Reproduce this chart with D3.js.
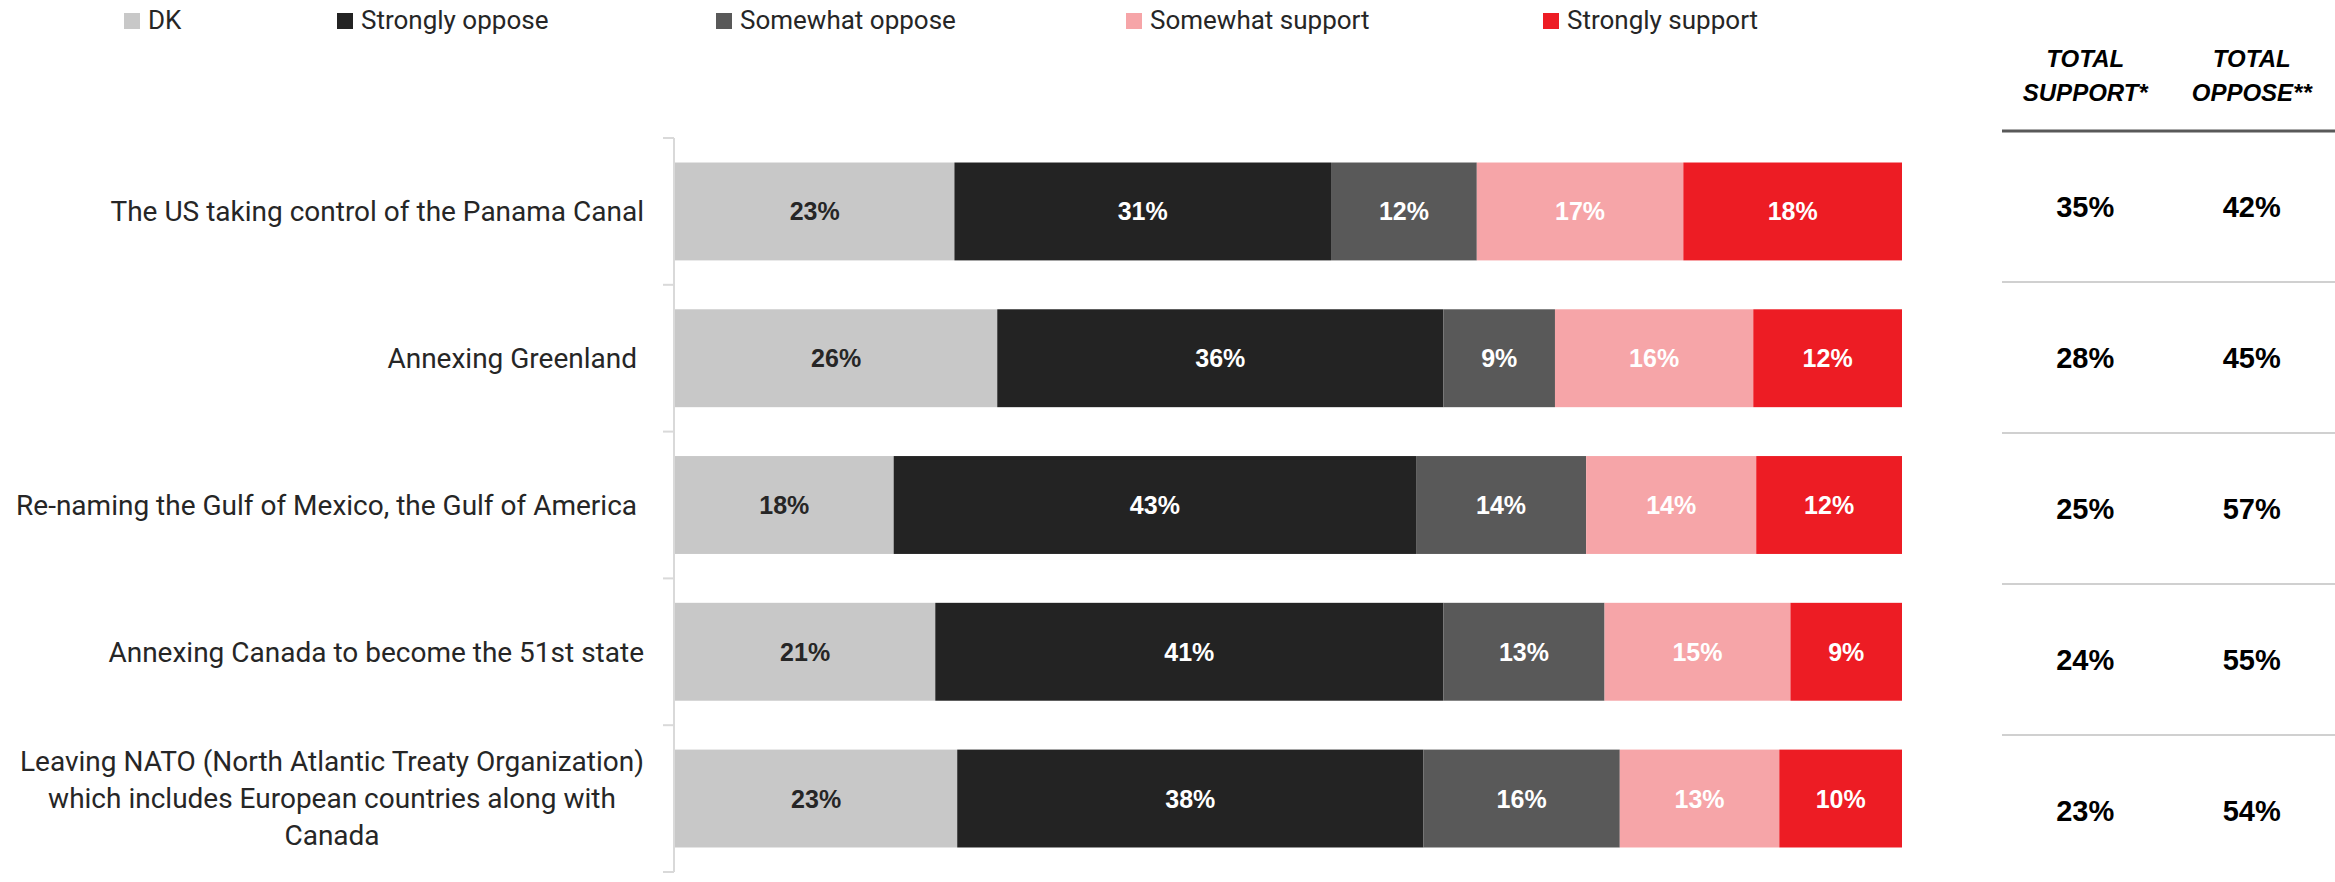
<!DOCTYPE html>
<html>
<head>
<meta charset="utf-8">
<script src="https://cdn.jsdelivr.net/npm/d3@7"></script>
<style>
  body { margin: 0; background: #fff; }
  svg { display: block; }
</style>
</head>
<body>
<div class="canvas"></div>
<script>
const w = 2335;
const h = 882;

// data
const categories = [
  "The US taking control of the Panama Canal",
  "Annexing Greenland ",
  "Re-naming the Gulf of Mexico, the Gulf of America ",
  "Annexing Canada to become the 51st state",
  "Leaving NATO (North Atlantic Treaty Organization) which includes European countries along with Canada"
];
const seriesNames = ["DK", "Strongly oppose", "Somewhat oppose", "Somewhat support", "Strongly support"];
const dk = [23, 26, 18, 21, 23];
const stronglyOppose = [31, 36, 43, 41, 38];
const somewhatOppose = [12, 9, 14, 13, 16];
const somewhatSupport = [17, 16, 14, 15, 13];
const stronglySupport = [18, 12, 12, 9, 10];
const totalSupport = [35, 28, 25, 24, 23];
const totalOppose = [42, 45, 57, 55, 54];
const tableHeaders = [["TOTAL", "SUPPORT*"], ["TOTAL", "OPPOSE**"]];
const labelLines = [
  ["The US taking control of the Panama Canal"],
  ["Annexing Greenland "],
  ["Re-naming the Gulf of Mexico, the Gulf of America "],
  ["Annexing Canada to become the 51st state"],
  ["Leaving NATO (North Atlantic Treaty Organization)", "which includes European countries along with", "Canada"]
];

const colors = d3.scaleOrdinal()
  .domain(seriesNames)
  .range(["#c8c8c8", "#232323", "#595959", "#f6a5a8", "#ed1c24"]);
const textColors = d3.scaleOrdinal()
  .domain(seriesNames)
  .range(["#262626", "#fff", "#fff", "#fff", "#fff"]);

const rows = categories.map((c, i) => ({
  category: c,
  "DK": dk[i],
  "Strongly oppose": stronglyOppose[i],
  "Somewhat oppose": somewhatOppose[i],
  "Somewhat support": somewhatSupport[i],
  "Strongly support": stronglySupport[i]
}));

const stacked = d3.stack()
  .keys(seriesNames)
  .offset(d3.stackOffsetExpand)(rows);

const x = d3.scaleLinear().domain([0, 1]).range([675, 1902]);
const y = d3.scaleBand()
  .domain(categories)
  .range([138, 872])
  .paddingInner(0.333)
  .paddingOuter(0.167);

const graph = d3.select(".canvas")
  .append("svg")
  .attr("width", w)
  .attr("height", h);

// axis line with ticks between categories
const axisX = x(0) - 1;
graph.append("line")
  .attr("x1", axisX).attr("x2", axisX)
  .attr("y1", y.range()[0]).attr("y2", y.range()[1])
  .attr("stroke", "#d9d9d9").attr("stroke-width", 2);

const stepAll = (y.range()[1] - y.range()[0]) / categories.length;
const bounds = d3.range(categories.length + 1).map(i => y.range()[0] + i * stepAll);
graph.selectAll(".tick-line")
  .data(bounds)
  .enter().append("line")
  .attr("class", "tick-line")
  .attr("x1", axisX - 11).attr("x2", axisX)
  .attr("y1", d => d).attr("y2", d => d)
  .attr("stroke", "#d9d9d9").attr("stroke-width", 2);

// bars
const layers = graph.append("g").attr("class", "bars")
  .selectAll("g")
  .data(stacked)
  .enter().append("g")
  .attr("fill", d => colors(d.key));

layers.selectAll("rect")
  .data(d => d.map(v => ({ key: d.key, v: v })))
  .enter().append("rect")
  .attr("x", d => x(d.v[0]))
  .attr("y", d => y(d.v.data.category))
  .attr("width", d => x(d.v[1]) - x(d.v[0]))
  .attr("height", y.bandwidth());

layers.selectAll("text")
  .data(d => d.map(v => ({ key: d.key, v: v })))
  .enter().append("text")
  .attr("x", d => (x(d.v[0]) + x(d.v[1])) / 2)
  .attr("y", d => y(d.v.data.category) + y.bandwidth() / 2)
  .attr("dy", "0.36em")
  .attr("text-anchor", "middle")
  .style("font-family", "'Liberation Sans', Arial, sans-serif")
  .style("font-weight", "bold")
  .style("font-size", "25px")
  .attr("fill", d => textColors(d.key))
  .text(d => d.v.data[d.key] + "%");

// category labels
const labelX = 644;
const lineH = 37;
const labels = graph.append("g").attr("class", "labels")
  .selectAll("text")
  .data(categories)
  .enter().append("text")
  .style("font-family", "Roboto, 'Noto Sans', sans-serif")
  .style("font-size", "28px")
  .style("white-space", "pre")
  .attr("fill", "#262626")
  .attr("text-anchor", (d, i) => labelLines[i].length > 1 ? "middle" : "end")
  .attr("y", (d, i) => y(d) + y.bandwidth() / 2 - (labelLines[i].length - 1) * lineH / 2);

labels.each(function(d, i) {
  const t = d3.select(this);
  const lines = labelLines[i];
  lines.forEach((l, j) => {
    t.append("tspan")
      .attr("x", labelX)
      .attr("dy", j === 0 ? "0.35em" : lineH)
      .text(l);
  });
  if (lines.length > 1) {
    const maxLen = d3.max(t.selectAll("tspan").nodes(), n => n.getComputedTextLength());
    t.selectAll("tspan").attr("x", labelX - maxLen / 2);
  }
});

// legend
const legendX = [124, 337, 716, 1126, 1543];
const legend = graph.append("g").attr("class", "legend")
  .selectAll("g")
  .data(seriesNames)
  .enter().append("g")
  .attr("transform", (d, i) => "translate(" + legendX[i] + ",13)");

legend.append("rect")
  .attr("width", 16).attr("height", 16)
  .attr("fill", d => colors(d));

legend.append("text")
  .attr("x", 24).attr("y", 16)
  .style("font-family", "Roboto, 'Noto Sans', sans-serif")
  .style("font-size", "26px")
  .attr("fill", "#262626")
  .text(d => d);

// table
const colX = d3.scaleBand().domain(["support", "oppose"]).range([2002, 2335]);
const rowY = d3.scaleBand().domain(categories).range([131, 131 + 151 * categories.length]);

graph.selectAll(".row-line")
  .data(categories)
  .enter().append("line")
  .attr("class", "row-line")
  .attr("x1", 2002).attr("x2", 2335)
  .attr("y1", d => rowY(d)).attr("y2", d => rowY(d))
  .attr("stroke", (d, i) => i === 0 ? "#595959" : "#d0d0d0")
  .attr("stroke-width", (d, i) => i === 0 ? 3 : 2);

const headers = graph.selectAll(".header")
  .data(colX.domain())
  .enter().append("text")
  .attr("class", "header")
  .attr("text-anchor", "middle")
  .style("font-family", "'Liberation Sans', Arial, sans-serif")
  .style("font-weight", "bold")
  .style("font-style", "italic")
  .style("font-size", "24px")
  .attr("fill", "#000");

headers.each(function(d, i) {
  tableHeaders[i].forEach((l, j) => {
    d3.select(this).append("tspan")
      .attr("x", colX(d) + colX.bandwidth() / 2)
      .attr("y", 67 + j * 34)
      .text(l);
  });
});

const tableVals = { support: totalSupport, oppose: totalOppose };
colX.domain().forEach(k => {
  graph.selectAll(".val-" + k)
    .data(categories)
    .enter().append("text")
    .attr("class", "val-" + k)
    .attr("x", colX(k) + colX.bandwidth() / 2)
    .attr("y", d => rowY(d) + rowY.bandwidth() / 2)
    .attr("dy", "0.36em")
    .attr("text-anchor", "middle")
    .style("font-family", "'Liberation Sans', Arial, sans-serif")
    .style("font-weight", "bold")
    .style("font-size", "29px")
    .attr("fill", "#000")
    .text((d, i) => tableVals[k][i] + "%");
});
</script>
</body>
</html>
